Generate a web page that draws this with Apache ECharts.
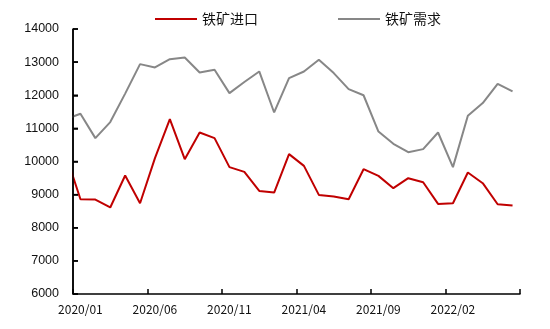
<!DOCTYPE html>
<html>
<head>
<meta charset="utf-8">
<script src="https://cdn.jsdelivr.net/npm/echarts@6/dist/echarts.min.js"></script>
<style>
  html, body { margin: 0; padding: 0; background: #fff; }
  #chart { width: 550px; height: 329px; }
</style>
</head>
<body>
<div id="chart"></div>
<script>
// Monthly categories shown on the x axis
const months = [
  '2020/01','2020/02','2020/03','2020/04','2020/05','2020/06','2020/07','2020/08','2020/09','2020/10',
  '2020/11','2020/12','2021/01','2021/02','2021/03','2021/04','2021/05','2021/06','2021/07','2021/08',
  '2021/09','2021/10','2021/11','2021/12','2022/01','2022/02','2022/03','2022/04','2022/05','2022/06'
];

// Iron ore imports (10k t), with the preceding month (2019/12) kept separately
const importPrev = 10230;
const importVals = [
  8862, 8850, 8612, 9576, 8741, 10100, 11280, 10070, 10875, 10705,
  9830, 9687, 9113, 9062, 10222, 9868, 8992, 8941, 8862, 9768,
  9566, 9194, 9496, 9375, 8720, 8740, 9667, 9345, 8710, 8670
];

// Iron ore demand (10k t), with the preceding month (2019/12) kept separately
const demandPrev = 11275;
const demandVals = [
  11440, 10705, 11190, 12050, 12940, 12840, 13090, 13140, 12688, 12770,
  12065, 12400, 12718, 11480, 12518, 12718, 13072, 12670, 12186, 12000,
  10905, 10533, 10282, 10373, 10875, 9830, 11380, 11763, 12346, 12114
];

// Y axis range
const yMin = 6000, yMax = 14000, yStep = 1000;

// Position on the hidden numeric x axis: month i sits at the centre of band i (i + 0.5),
// the preceding month (2019/12) one step further left and clipped by the grid.
function toPoints(prev, vals) {
  const pts = [[-0.5, prev]];
  vals.forEach((v, i) => pts.push([i + 0.5, v]));
  return pts;
}

const chart = echarts.init(document.getElementById('chart'), null, { renderer: 'canvas' });

chart.setOption({
  animation: false,
  backgroundColor: '#ffffff',
  legend: {
    top: 7,
    left: 150,
    itemGap: 80,
    itemWidth: 42,
    itemHeight: 10,
    icon: 'path://M0,4 L42,4 L42,6 L0,6 Z',
    textStyle: { fontFamily: 'Noto Sans CJK SC', fontSize: 14, color: '#111' },
    data: ['铁矿进口', '铁矿需求']
  },
  grid: { left: 73, right: 30, top: 29, bottom: 35, containLabel: false },
  xAxis: [
    {
      type: 'category',
      data: months,
      boundaryGap: true,
      axisLine: { show: true, onZero: false, lineStyle: { color: '#000', width: 1.5 } },
      axisTick: { show: true, inside: true, length: 5, interval: 4, lineStyle: { color: '#000', width: 1.5 } },
      axisLabel: {
        interval: 4,
        margin: 9,
        fontFamily: 'Noto Sans CJK SC',
        fontSize: 12,
        color: '#111'
      },
      splitLine: { show: false }
    },
    {
      type: 'value',
      min: 0,
      max: months.length,
      show: false
    }
  ],
  yAxis: [{
    type: 'value',
    position: 'left',
    min: yMin,
    max: yMax,
    interval: yStep,
    axisLine: { show: true, onZero: true, onZeroAxisIndex: 1, lineStyle: { color: '#000', width: 1.5 } },
    axisTick: { show: true, inside: true, length: 5, lineStyle: { color: '#000', width: 1.5 } },
    axisLabel: {
      margin: 14,
      fontFamily: 'Liberation Sans',
      fontSize: 12.5,
      color: '#111',
      formatter: (v) => String(v)
    },
    splitLine: { show: false }
  }],
  series: [
    {
      name: '铁矿进口',
      type: 'line',
      xAxisIndex: 1,
      data: toPoints(importPrev, importVals),
      showSymbol: false,
      clip: true,
      color: '#C00000',
      lineStyle: { color: '#C00000', width: 2 }
    },
    {
      name: '铁矿需求',
      type: 'line',
      xAxisIndex: 1,
      data: toPoints(demandPrev, demandVals),
      showSymbol: false,
      clip: true,
      color: '#878787',
      lineStyle: { color: '#878787', width: 2 }
    }
  ]
});

// Left axis line with inward ticks, positioned through the chart's own scales
const axisX = chart.convertToPixel({ xAxisIndex: 1 }, 0);
const yTop = chart.convertToPixel({ yAxisIndex: 0 }, yMax);
const yBottom = chart.convertToPixel({ yAxisIndex: 0 }, yMin);
const axisStroke = { stroke: '#000', lineWidth: 1.5 };
const leftAxis = [{
  type: 'line', z: 100, silent: true,
  shape: { x1: axisX, y1: yTop, x2: axisX, y2: yBottom },
  style: axisStroke
}];
for (let v = yMin; v <= yMax; v += yStep) {
  const y = chart.convertToPixel({ yAxisIndex: 0 }, v);
  leftAxis.push({
    type: 'line', z: 100, silent: true,
    shape: { x1: axisX, y1: y, x2: axisX + 5, y2: y },
    style: axisStroke
  });
}
chart.setOption({ graphic: leftAxis });
</script>
</body>
</html>
